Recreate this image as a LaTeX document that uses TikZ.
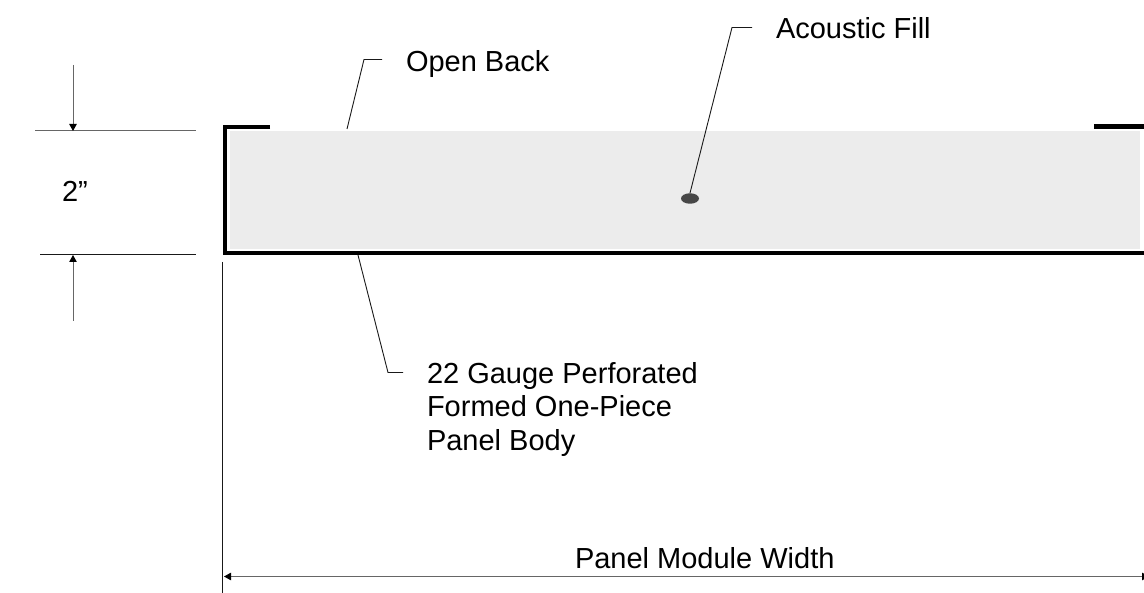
\documentclass[tikz,border=0pt]{standalone}
\usepackage{fontspec}
\setmainfont{Liberation Sans}
\usetikzlibrary{arrows.meta,shapes.geometric}
\tikzset{
  lbl/.style={anchor=base west,inner sep=0pt,outer sep=0pt,align=left,font=\fontsize{29}{33.5}\selectfont,text=black},
  thin line/.style={draw=black!90,line width=0.9pt},
  dimline/.style={draw=black!60,line width=1pt},
  dimhead/.tip={Triangle[width=7.5pt,length=7pt,color=black,fill=black]},
  channel/.style={draw=black,line width=4.5pt,miter limit=10},
  leader/.style={draw=black!90,line width=0.9pt,line join=miter}
}
\begin{document}
\begin{tikzpicture}[x=1pt,y=-1pt]
\useasboundingbox (0,0) rectangle (1144,593);
\clip (0,0) rectangle (1144,593);
\fill[white] (0,0) rectangle (1144,593);
% fill and channel
\fill[black!7.5] (230,131) rectangle (1140,249);
\draw[channel] (270,127) -- (225,127) -- (225,253) -- (1144,253);
\draw[channel] (1094,126.5) -- (1144,126.5);
% named points
\coordinate (hTopL) at (35,131);
\coordinate (hTopR) at (196,131);
\coordinate (hBotL) at (40,254.5);
\coordinate (hBotR) at (196,254.5);
\coordinate (aTopS) at (73,65);
\coordinate (aTopE) at (73,131);
\coordinate (aBotS) at (73,321);
\coordinate (aBotE) at (73,255);
\coordinate (vTop) at (222.5,262);
\coordinate (vBot) at (222.5,593);
\coordinate (wL) at (224,576.5);
\coordinate (wR) at (1149,576.5);
\coordinate (ab0) at (347,129);
\coordinate (ab1) at (364,59.5);
\coordinate (ab2) at (382,59.5);
\coordinate (af1) at (732,27.5);
\coordinate (af2) at (752,27.5);
\coordinate (g0) at (358,255);
\coordinate (g1) at (388,372.5);
\coordinate (g2) at (403,372.5);
% dimensions
\draw[dimline] (hTopL) -- (hTopR);
\draw[thin line] (hBotL) -- (hBotR);
\draw[dimline,-dimhead] (aTopS) -- (aTopE);
\draw[dimline,-dimhead] (aBotS) -- (aBotE);
\draw[thin line] (vTop) -- (vBot);
\draw[dimline,dimhead-dimhead] (wL) -- (wR);
% leaders
\node[ellipse,fill=black!72,minimum width=18pt,minimum height=10.5pt,inner sep=0pt] (fill) at (690,198.5) {};
\draw[leader] (fill.north) -- (af1) -- (af2);
\draw[leader] (ab0) -- (ab1) -- (ab2);
\draw[leader] (g0) -- (g1) -- (g2);
% labels
\node[lbl] (t1) at (776,39) {Acoustic Fill};
\node[lbl] (t2) at (406,72) {Open Back};
\node[lbl] (t3) at (62,202) {2”};
\node[lbl] (t4) at (427,450.5) {22 Gauge Perforated\\Formed One-Piece\\Panel Body};
\node[lbl] (t5) at (575,568) {Panel Module Width};
\end{tikzpicture}
\end{document}
